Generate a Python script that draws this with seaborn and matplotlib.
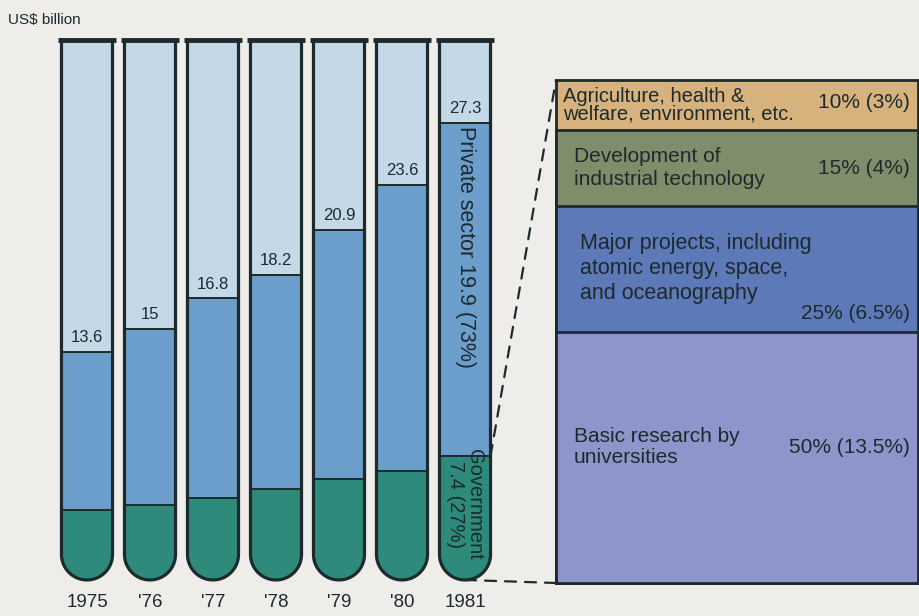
import numpy as np
import pandas as pd
import seaborn as sns
import matplotlib.pyplot as plt
from matplotlib.path import Path
from matplotlib.patches import PathPatch, ConnectionPatch

# R&D spending, US$ billion
years = ['1975', "'76", "'77", "'78", "'79", "'80", '1981']
total = [13.6, 15, 16.8, 18.2, 20.9, 23.6, 27.3]
government = [4.2, 4.5, 4.9, 5.4, 6.0, 6.5, 7.4]
tube_top = 32.2

# breakdown of the 1981 government share (top to bottom)
areas = ['Agriculture, health &\nwelfare, environment, etc.',
         'Development of\nindustrial technology',
         'Major projects, including\natomic energy, space,\nand oceanography',
         'Basic research by\nuniversities']
area_share = [10, 15, 25, 50]
area_pct = ['10% (3%)', '15% (4%)', '25% (6.5%)', '50% (13.5%)']

bg = '#eeede9'
dark = '#1d2a2d'
light_blue = '#c4d8e7'
mid_blue = '#6b9ecb'
green = '#2e8b7b'
area_colors = ['#d7b27c', '#7f8d6b', '#5d79b8', '#8e95cb']

sns.set_theme(style='white')
plt.rcParams['font.family'] = ['Liberation Sans', 'DejaVu Sans']

fig = plt.figure(figsize=(9.19, 6.16), dpi=100, facecolor=bg)

# tubes
ax = fig.add_axes([55.5 / 919, 26 / 616, 441 / 919, 563 / 616])
ax.set_facecolor('none')
w = 0.81
df = pd.DataFrame({'year': years, 'total': total, 'gov': government,
                   'top': tube_top})

px_per_unit = 563 / 33.6


def tube_path(c):
    rx, ry = w / 2, 25.5 / px_per_unit
    t = np.linspace(np.pi, 2 * np.pi, 50)
    arc = np.column_stack([c + rx * np.cos(t), ry + ry * np.sin(t)])
    verts = [(c - rx, tube_top)] + arc.tolist() + [(c + rx, tube_top)]
    return Path(verts)


tubes = []
for i in range(len(years)):
    p = PathPatch(tube_path(i), fill=False, edgecolor=dark, lw=2.3, zorder=3)
    ax.add_patch(p)
    tubes.append(p)

for col, colr in [('top', light_blue), ('total', mid_blue), ('gov', green)]:
    n0 = len(ax.patches)
    sns.barplot(data=df, x='year', y=col, color=colr, saturation=1, width=w,
                edgecolor=dark, linewidth=1.4, ax=ax)
    for i, bar in enumerate(ax.patches[n0:]):
        bar.set_clip_path(tubes[i])

for i in range(len(years)):
    ax.hlines(tube_top, i - w / 2 - 0.05, i + w / 2 + 0.05, color=dark,
              lw=3.5, zorder=4)
    ax.text(i, total[i] + 0.85, f'{total[i]:g}', ha='center', va='center',
            fontsize=12, color=dark, zorder=5)

priv = total[-1] - government[-1]
ax.text(len(years) - 1, total[-1] - 0.2,
        f'Private sector {priv:.1f} ({priv / total[-1] * 100:.0f}%)',
        rotation=270, ha='center', va='top', fontsize=15.5, color=dark, zorder=5)
ax.text(len(years) - 1, government[-1] + 0.4,
        f'Government\n{government[-1]:.1f} ({government[-1] / total[-1] * 100:.0f}%)',
        rotation=270, ha='center', va='top', fontsize=14.5, color=dark,
        linespacing=1.0, zorder=5)

ax.set_xlim(-0.5, 6.5)
ax.set_ylim(-0.6, 33)
ax.set_yticks([])
ax.set_xlabel('')
ax.set_ylabel('')
ax.tick_params(axis='x', length=0, pad=3, labelsize=13.5, labelcolor=dark)
sns.despine(ax=ax, left=True, bottom=True)

# breakdown box
ax2 = fig.add_axes([556 / 919, 33 / 616, 362 / 919, 503 / 616])
ax2.set_facecolor('none')
cum = np.cumsum(area_share[::-1])[::-1]  # top of each segment
for top, colr in zip(cum, area_colors):
    n0 = len(ax2.patches)
    sns.barplot(x=['x'], y=[top], color=colr, saturation=1, width=1,
                edgecolor=dark, linewidth=2, ax=ax2)
    for bar in ax2.patches[n0:]:
        bar.set_clip_on(False)

label_x = [0.02, 0.05, 0.065, 0.05]
label_offset = [0, 0, 0, 2]
label_size = [14.5, 15, 15.5, 15]
label_spacing = [0.85, 1.3, 1.25, 1.15]
pct_offset = [0.5, 0, -9, 2]
for i, (name, share, pct) in enumerate(zip(areas, area_share, area_pct)):
    mid = cum[i] - share / 2
    ax2.text(-0.5 + label_x[i], mid + label_offset[i], name, ha='left',
             va='center', fontsize=label_size[i], color=dark,
             linespacing=label_spacing[i])
    ax2.text(-0.5 + 0.978, mid + pct_offset[i], pct, ha='right',
             va='center', fontsize=15, color=dark)

ax2.set_xlim(-0.5, 0.5)
ax2.set_ylim(0, 100)
ax2.axis('off')

# dashed connectors from the government part of 1981 to the box
for ya, yb in [(government[-1], 100), (0, 0)]:
    xa = len(years) - 1 + (w / 2 if ya > 0 else 0)
    con = ConnectionPatch(xyA=(xa, ya), coordsA=ax.transData,
                          xyB=(-0.5, yb), coordsB=ax2.transData,
                          color=dark, lw=1.6, linestyle=(0, (5, 4)))
    fig.add_artist(con)

fig.text(8 / 919, 1 - 20 / 616, 'US$ billion', fontsize=11, va='center',
         color=dark)

fig.savefig('out.png', dpi=100, facecolor=bg)
